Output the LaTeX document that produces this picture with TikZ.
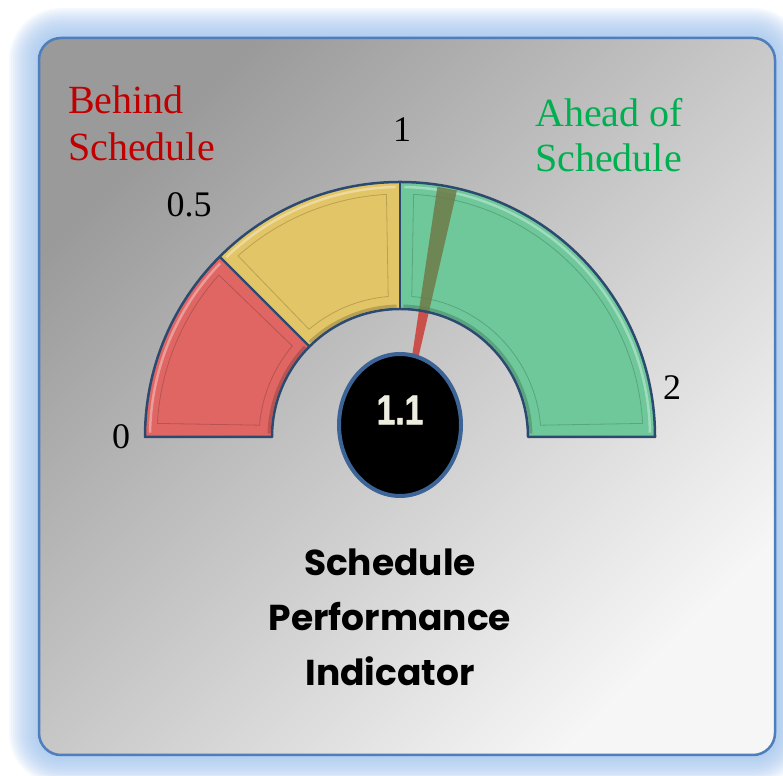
\documentclass[tikz,border=0pt]{standalone}
\usepackage{fontspec}
\setmainfont{Liberation Serif}
\newfontfamily\titlefont{Poppins}
\newfontfamily\valfont{Liberation Sans Bold}[FakeStretch=0.8,FakeBold=1.2]
\usetikzlibrary{calc,shapes.geometric}
\definecolor{glowblue}{HTML}{9DC3F0}
\definecolor{frameblue}{HTML}{4F7EBD}
\definecolor{bgdark}{HTML}{9A9A9A}
\definecolor{bglight}{HTML}{F6F6F6}
\definecolor{segred}{HTML}{E06664}
\definecolor{segyellow}{HTML}{E2C566}
\definecolor{seggreen}{HTML}{6EC89A}
\definecolor{edgeblue}{HTML}{2C4A70}
\definecolor{needlered}{HTML}{C9504B}
\definecolor{needleolive}{HTML}{6E7A48}
\definecolor{ellblue}{HTML}{3D6497}
\definecolor{behindred}{HTML}{C00000}
\definecolor{aheadgreen}{HTML}{00B050}
\definecolor{valwhite}{HTML}{EFEDE0}
\def\Ro{255}
\def\Ri{128}
\newcommand\gaugeseg[3]{%
  \fill[#3] ($(C)+(#1:\Ro)$) arc[start angle=#1,end angle=#2,radius=\Ro]
     -- ($(C)+(#2:\Ri)$) arc[start angle=#2,end angle=#1,radius=\Ri] -- cycle;
  \draw[#3!70!black, line width=0.8, opacity=0.6]
     ($(C)+(#1-3.2:243)$) arc[start angle=#1-3.2,end angle=#2+3.2,radius=243]
     -- ($(C)+(#2+4.8:141)$) arc[start angle=#2+4.8,end angle=#1-4.8,radius=141] -- cycle;
  \draw[white, line width=2.5, opacity=0.35]
     ($(C)+(#1-1:\Ro-5)$) arc[start angle=#1-1,end angle=#2+1,radius=\Ro-5];
  \draw[black, line width=3, opacity=0.18]
     ($(C)+(#1-1.5:\Ri+3)$) arc[start angle=#1-1.5,end angle=#2+1.5,radius=\Ri+3];
}
\begin{document}
\begin{tikzpicture}[x=1pt,y=1pt,
  gaugelabel/.style={font=\fontsize{36}{40}\selectfont, text=black, inner sep=0},
  sidelabel/.style={align=left, anchor=base west, inner sep=0}]
\useasboundingbox (0,0) rectangle (783,775);
\fill[white] (0,0) rectangle (783,775);
% glow
\foreach \e in {30,28,...,2} {
  \pgfmathsetmacro\rr{22+\e}
  \fill[glowblue, opacity=0.085, rounded corners=\rr pt] (39-\e,20-\e) rectangle (775+\e,737+\e);
}
% frame
\shade[rounded corners=22pt, top color=bgdark, bottom color=bglight, shading angle=45] (39,20) rectangle (775,737);
\draw[frameblue, line width=2.5, rounded corners=22pt] (39,20) rectangle (775,737);
% gauge
\coordinate (C) at (400,338);
\fill[needlered] (C) -- ($(C)+(77:250)$) -- ($(C)+(81.5:250)$) -- cycle;
\gaugeseg{180}{135}{segred}
\gaugeseg{135}{90}{segyellow}
\gaugeseg{90}{0}{seggreen}
\fill[needleolive, opacity=0.85] ($(C)+(77:\Ri)$) -- ($(C)+(77:\Ro-2)$) -- ($(C)+(81.5:\Ro-2)$) -- ($(C)+(81.5:\Ri)$) -- cycle;
\draw[edgeblue, line width=2.2] ($(C)+(135:\Ri)$) -- ($(C)+(135:\Ro)$);
\draw[edgeblue, line width=2.2] ($(C)+(90:\Ri)$) -- ($(C)+(90:\Ro)$);
\draw[edgeblue, line width=2.5, line join=round] ($(C)+(180:\Ro)$) arc[start angle=180,end angle=0,radius=\Ro]
   -- ($(C)+(0:\Ri)$) arc[start angle=0,end angle=180,radius=\Ri] -- cycle;
% value ellipse
\node[ellipse, draw=ellblue, line width=4, fill=black, minimum width=122, minimum height=142, inner sep=0] (val) at (400,350) {};
\node[font=\valfont\fontsize{42}{42}\selectfont, text=valwhite, inner sep=0] (valtext) at (400,365) {1.1};
% scale labels
\node[gaugelabel] (l0) at (121,338) {0};
\node[gaugelabel] (l05) at (189,570) {0.5};
\node[gaugelabel] (l1) at (402,645) {1};
\node[gaugelabel] (l2) at (672,387) {2};
% side labels
\node[sidelabel, text=behindred, font=\fontsize{40}{47}\selectfont] (behind) at (68,614) {Behind\\Schedule};
\node[sidelabel, text=aheadgreen, font=\fontsize{40}{45}\selectfont] (ahead) at (535,603) {Ahead of\\Schedule};
% title
\node[font=\titlefont\bfseries\fontsize{36}{55}\selectfont, align=center, anchor=base, inner sep=0] (title) at (390,89) {Schedule\\Performance\\Indicator};
\end{tikzpicture}
\end{document}
